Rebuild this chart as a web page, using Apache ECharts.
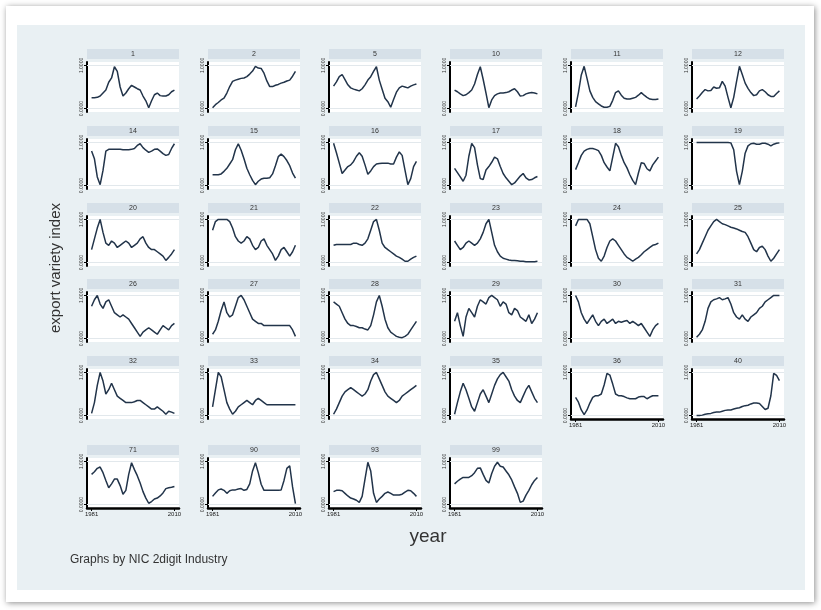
<!DOCTYPE html>
<html><head><meta charset="utf-8">
<script src="https://cdn.jsdelivr.net/npm/echarts@6/dist/echarts.min.js"></script>
<style>
html,body{margin:0;padding:0;background:#fff;width:821px;height:610px;overflow:hidden}
#frame{position:absolute;left:6px;top:6px;width:808px;height:596px;background:#fff;box-shadow:1px 1px 6px rgba(0,0,0,0.45)}
#bg{position:absolute;left:17px;top:25px;width:788px;height:565px;background:#e9f0f3}
#c{position:absolute;left:0;top:0;width:821px;height:610px}
</style>
</head><body>
<div id="frame"></div><div id="bg"></div>
<div id="c"></div>
<script>
const years = [1981,1982,1983,1984,1985,1986,1987,1988,1989,1990,1991,1992,1993,1994,1995,1996,1997,1998,1999,2000,2001,2002,2003,2004,2005,2006,2007,2008,2009,2010];
const panelLabels = ['1','2','5','10','11','12','14','15','16','17','18','19','20','21','22','23','24','25','26','27','28','29','30','31','32','33','34','35','36','40','71','90','93','99'];
const xTickValues = [1981, 2010];
const yTickValues = [0, 1];

const v1 = [0.25,0.25,0.26,0.29,0.36,0.43,0.61,0.71,0.97,0.86,0.5,0.29,0.36,0.46,0.54,0.5,0.46,0.43,0.29,0.18,0.02,0.18,0.32,0.36,0.3,0.29,0.29,0.32,0.39,0.43];
const v2 = [0.02,0.09,0.14,0.2,0.24,0.36,0.51,0.63,0.66,0.68,0.7,0.71,0.74,0.8,0.87,0.98,0.94,0.93,0.82,0.64,0.51,0.51,0.54,0.56,0.59,0.61,0.64,0.66,0.75,0.86];
const v5 = [0.52,0.62,0.74,0.79,0.67,0.55,0.48,0.45,0.43,0.41,0.46,0.55,0.66,0.74,0.86,0.97,0.66,0.45,0.24,0.16,0.03,0.21,0.38,0.48,0.52,0.5,0.48,0.52,0.55,0.57];
const v10 = [0.43,0.39,0.34,0.3,0.32,0.37,0.43,0.57,0.79,0.97,0.68,0.36,0.02,0.2,0.3,0.34,0.36,0.36,0.37,0.39,0.43,0.46,0.39,0.29,0.3,0.34,0.36,0.37,0.36,0.34];
const v11 = [0.04,0.37,0.78,0.98,0.7,0.41,0.26,0.16,0.11,0.06,0.03,0.03,0.05,0.19,0.37,0.41,0.31,0.24,0.22,0.22,0.24,0.26,0.31,0.37,0.31,0.26,0.22,0.21,0.21,0.22];
const v12 = [0.22,0.29,0.37,0.44,0.41,0.42,0.5,0.47,0.48,0.63,0.52,0.26,0.02,0.26,0.63,0.98,0.79,0.59,0.47,0.37,0.3,0.32,0.41,0.44,0.39,0.32,0.28,0.28,0.35,0.41];
const v14 = [0.8,0.62,0.2,0.02,0.35,0.8,0.84,0.84,0.84,0.84,0.84,0.83,0.83,0.83,0.84,0.86,0.93,0.97,0.88,0.82,0.77,0.8,0.84,0.85,0.8,0.74,0.7,0.72,0.86,0.97];
const v15 = [0.25,0.25,0.25,0.27,0.33,0.4,0.5,0.6,0.83,0.97,0.82,0.62,0.4,0.25,0.12,0.02,0.1,0.15,0.17,0.17,0.18,0.27,0.46,0.67,0.73,0.67,0.58,0.46,0.29,0.17];
const v16 = [0.98,0.76,0.52,0.28,0.36,0.44,0.48,0.56,0.68,0.76,0.68,0.48,0.26,0.34,0.44,0.5,0.51,0.52,0.52,0.52,0.5,0.5,0.66,0.78,0.7,0.36,0.02,0.16,0.44,0.56];
const v17 = [0.4,0.3,0.2,0.1,0.24,0.68,0.98,0.88,0.48,0.16,0.14,0.36,0.44,0.54,0.66,0.62,0.44,0.28,0.18,0.1,0.02,0.06,0.14,0.22,0.28,0.18,0.13,0.14,0.18,0.21];
const v18 = [0.37,0.53,0.7,0.8,0.84,0.86,0.86,0.84,0.81,0.7,0.53,0.43,0.34,0.66,0.98,0.9,0.7,0.53,0.41,0.25,0.12,0.02,0.29,0.53,0.51,0.39,0.34,0.48,0.57,0.66];
const v19 = [1,1,1,1,1,1,1,1,1,1,1,1,0.99,0.83,0.33,0.02,0.33,0.75,0.92,0.97,0.98,0.96,0.96,0.98,0.98,0.96,0.92,0.96,0.98,0.99];
const v20 = [0.3,0.55,0.8,1.0,0.7,0.45,0.4,0.5,0.45,0.35,0.4,0.45,0.5,0.45,0.35,0.4,0.45,0.55,0.6,0.45,0.35,0.3,0.3,0.25,0.2,0.15,0.05,0.12,0.2,0.3];
const v21 = [0.75,0.95,1.0,1.0,1.0,1.0,0.95,0.8,0.6,0.5,0.45,0.5,0.6,0.55,0.4,0.3,0.35,0.5,0.55,0.4,0.3,0.2,0.05,0.15,0.3,0.35,0.25,0.15,0.25,0.4];
const v22 = [0.4,0.42,0.42,0.42,0.42,0.42,0.42,0.45,0.45,0.42,0.4,0.45,0.55,0.75,0.95,1.0,0.75,0.45,0.35,0.3,0.25,0.2,0.15,0.12,0.08,0.03,0.03,0.08,0.12,0.15];
const v23 = [0.5,0.4,0.3,0.35,0.45,0.5,0.45,0.4,0.45,0.55,0.7,0.9,1.0,0.7,0.4,0.25,0.15,0.1,0.08,0.06,0.05,0.05,0.04,0.03,0.03,0.02,0.02,0.02,0.02,0.03];
const v24 = [0.85,1.0,1.0,1.0,1.0,0.9,0.6,0.3,0.1,0.03,0.15,0.35,0.5,0.55,0.5,0.4,0.3,0.2,0.12,0.08,0.03,0.08,0.12,0.18,0.25,0.3,0.35,0.4,0.42,0.45];
const v25 = [0.2,0.3,0.45,0.6,0.75,0.85,0.95,1.0,0.95,0.9,0.88,0.85,0.82,0.8,0.78,0.75,0.72,0.7,0.6,0.45,0.3,0.25,0.35,0.38,0.3,0.15,0.03,0.1,0.2,0.3];
const v26 = [0.75,0.9,1.0,0.8,0.7,0.85,0.9,0.75,0.6,0.55,0.5,0.55,0.5,0.45,0.35,0.25,0.15,0.05,0.15,0.2,0.25,0.2,0.15,0.1,0.2,0.3,0.25,0.2,0.3,0.35];
const v27 = [0.1,0.2,0.4,0.65,0.85,0.6,0.5,0.55,0.75,0.95,1.0,0.9,0.75,0.6,0.45,0.4,0.35,0.35,0.3,0.3,0.3,0.3,0.3,0.3,0.3,0.3,0.3,0.3,0.2,0.05];
const v28 = [0.85,0.8,0.75,0.6,0.45,0.35,0.3,0.3,0.28,0.25,0.25,0.22,0.2,0.3,0.55,0.85,1.0,0.75,0.45,0.25,0.15,0.1,0.05,0.03,0.02,0.05,0.1,0.2,0.3,0.4];
const v29 = [0.4,0.6,0.3,0.05,0.5,0.7,0.6,0.5,0.75,0.9,0.85,0.8,0.95,1.0,0.95,0.9,0.75,0.85,0.8,0.6,0.55,0.7,0.65,0.5,0.45,0.4,0.55,0.35,0.45,0.6];
const v30 = [1.0,0.85,0.6,0.45,0.35,0.45,0.55,0.4,0.3,0.4,0.45,0.35,0.4,0.45,0.35,0.4,0.38,0.4,0.42,0.35,0.4,0.35,0.3,0.35,0.25,0.15,0.05,0.2,0.3,0.35];
const v31 = [0.03,0.1,0.2,0.4,0.7,0.85,0.9,0.92,0.95,0.9,0.92,0.95,0.8,0.6,0.5,0.45,0.55,0.45,0.4,0.5,0.55,0.6,0.7,0.75,0.85,0.9,0.95,1.0,1.0,1.0];
const v32 = [0.05,0.3,0.7,1.0,0.8,0.5,0.6,0.75,0.6,0.45,0.4,0.35,0.3,0.3,0.3,0.32,0.35,0.35,0.3,0.25,0.2,0.15,0.15,0.2,0.15,0.1,0.03,0.1,0.08,0.05];
const v33 = [0.2,0.6,1.0,0.9,0.6,0.3,0.15,0.03,0.1,0.2,0.25,0.3,0.35,0.3,0.25,0.35,0.4,0.35,0.3,0.25,0.25,0.25,0.25,0.25,0.25,0.25,0.25,0.25,0.25,0.25];
const v34 = [0.03,0.15,0.3,0.45,0.55,0.6,0.65,0.6,0.55,0.5,0.45,0.5,0.6,0.8,0.95,1.0,0.85,0.7,0.55,0.45,0.4,0.35,0.3,0.35,0.45,0.5,0.55,0.6,0.65,0.7];
const v35 = [0.03,0.3,0.55,0.75,0.6,0.4,0.2,0.1,0.3,0.5,0.6,0.45,0.3,0.5,0.7,0.85,0.95,1.0,0.9,0.8,0.6,0.45,0.35,0.3,0.45,0.6,0.7,0.55,0.4,0.3];
const v36 = [0.42,0.31,0.13,0.02,0.13,0.29,0.42,0.46,0.46,0.5,0.71,0.98,0.94,0.73,0.5,0.46,0.46,0.44,0.41,0.39,0.39,0.39,0.43,0.44,0.44,0.39,0.43,0.46,0.46,0.46];
const v40 = [0,0,0.01,0.03,0.04,0.05,0.07,0.08,0.08,0.1,0.12,0.13,0.13,0.15,0.17,0.18,0.21,0.23,0.24,0.27,0.29,0.29,0.28,0.21,0.14,0.17,0.46,0.98,0.93,0.81];
const v71 = [0.7,0.76,0.84,0.87,0.74,0.56,0.39,0.48,0.59,0.59,0.44,0.24,0.33,0.7,0.97,0.81,0.67,0.5,0.3,0.15,0.03,0.07,0.13,0.15,0.2,0.27,0.37,0.39,0.4,0.42];
const v90 = [0.19,0.27,0.34,0.36,0.33,0.26,0.32,0.34,0.34,0.36,0.37,0.33,0.35,0.48,0.78,0.97,0.74,0.47,0.33,0.33,0.33,0.33,0.33,0.33,0.34,0.56,0.84,0.9,0.41,0.02];
const v93 = [0.3,0.33,0.33,0.32,0.26,0.2,0.15,0.13,0.1,0.05,0.19,0.59,0.98,0.78,0.26,0.05,0.13,0.19,0.26,0.29,0.26,0.22,0.22,0.22,0.24,0.29,0.33,0.32,0.26,0.19];
const v99 = [0.48,0.54,0.59,0.63,0.63,0.63,0.67,0.74,0.84,0.85,0.7,0.56,0.5,0.72,0.89,0.98,0.89,0.87,0.78,0.69,0.57,0.41,0.26,0.05,0.08,0.22,0.33,0.46,0.56,0.63];

const values = [v1,v2,v5,v10,v11,v12,v14,v15,v16,v17,v18,v19,v20,v21,v22,v23,v24,v25,v26,v27,v28,v29,v30,v31,v32,v33,v34,v35,v36,v40,v71,v90,v93,v99];

const FONT = '"Liberation Sans", Arial, sans-serif';
const chart = echarts.init(document.getElementById('c'), null, {renderer: 'canvas'});
const titleTops = [49, 126, 203, 279, 356, 445];
const grids = [], xAxes = [], yAxes = [], series = [], graphics = [];

values.forEach((vals, k) => {
  const r = Math.floor(k / 6), c = k % 6;
  const left = 87 + 121 * c, top = titleTops[r] + 13, w = 92, h = 50;
  const showX = k >= 28;
  grids.push({left: left, top: top, width: w, height: h, show: true, backgroundColor: '#ffffff', borderWidth: 0});
  xAxes.push({
    gridIndex: k, type: 'value', min: 1979.4, max: 2011.6,
    axisLine: {show: showX, onZero: false, lineStyle: {color: '#000', width: 2.5}},
    axisTick: {show: showX, customValues: xTickValues, length: 3, lineStyle: {color: '#000', width: 1}},
    axisLabel: {show: showX, customValues: xTickValues, fontSize: 6, color: '#222', margin: 3, fontFamily: FONT,
      formatter: v => String(Math.round(v))},
    splitLine: {show: false}
  });
  yAxes.push({
    gridIndex: k, type: 'value', min: -0.08, max: 1.08,
    axisLine: {show: true, onZero: false, lineStyle: {color: '#000', width: 2}},
    axisTick: {show: true, customValues: yTickValues, length: 3, lineStyle: {color: '#000', width: 1}},
    axisLabel: {show: true, customValues: yTickValues, rotate: 90, fontSize: 5, color: '#333', margin: 3, fontFamily: FONT,
      formatter: v => v.toFixed(4)},
    splitLine: {show: false}
  });
  // light gridlines at the two labelled ticks (drawn beneath the data line)
  series.push({
    type: 'line', xAxisIndex: k, yAxisIndex: k, data: [], z: 1, silent: true,
    markLine: {z: 1, silent: true, symbol: 'none', label: {show: false}, animation: false,
      lineStyle: {color: '#e2e8ec', width: 1, type: 'solid'},
      data: [{yAxis: yTickValues[0]}, {yAxis: yTickValues[1]}]}
  });
  series.push({
    type: 'line', xAxisIndex: k, yAxisIndex: k, z: 3,
    data: years.map((y, i) => [y, vals[i]]),
    symbol: 'none', animation: false,
    lineStyle: {color: '#22344a', width: 1.5}
  });
  graphics.push({type: 'rect', shape: {x: left, y: titleTops[r], width: w, height: 10}, style: {fill: '#d6e0e8'}});
  graphics.push({type: 'text', x: left + w / 2, y: titleTops[r] + 5,
    style: {text: panelLabels[k], fontSize: 7, fill: '#333', align: 'center', verticalAlign: 'middle', fontFamily: FONT}});
});

graphics.push({type: 'text', x: 56, y: 268, rotation: Math.PI / 2,
  style: {text: 'export variety index', fontSize: 15, fill: '#333', align: 'center', verticalAlign: 'middle', fontFamily: FONT}});
graphics.push({type: 'text', x: 428, y: 537,
  style: {text: 'year', fontSize: 19, fill: '#333', align: 'center', verticalAlign: 'middle', fontFamily: FONT}});
graphics.push({type: 'text', x: 70, y: 560,
  style: {text: 'Graphs by NIC 2digit Industry', fontSize: 12, fill: '#333', align: 'left', verticalAlign: 'middle', fontFamily: FONT}});

chart.setOption({
  animation: false,
  grid: grids, xAxis: xAxes, yAxis: yAxes, series: series, graphic: graphics
});
</script>
</body></html>
